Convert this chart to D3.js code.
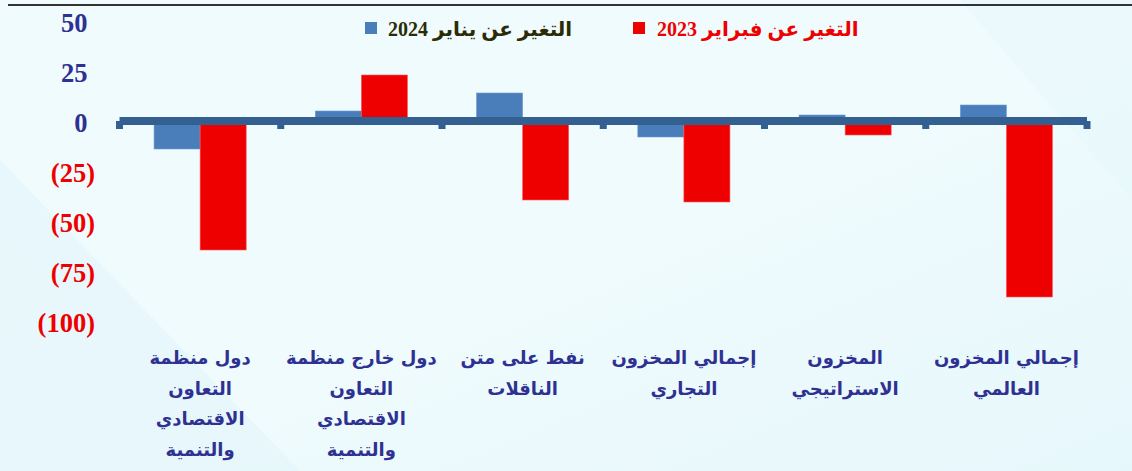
<!DOCTYPE html>
<html>
<head>
<meta charset="utf-8">
<script src="https://cdn.jsdelivr.net/npm/d3@7"></script>
<style>
  html, body { margin: 0; padding: 0; background: #eefafc; }
  svg { display: block; }
</style>
</head>
<body>
<script>
// ---- data (visual left-to-right order) ----
const categories = [
  "دول منظمة\nالتعاون\nالاقتصادي\nوالتنمية",
  "دول خارج منظمة\nالتعاون\nالاقتصادي\nوالتنمية",
  "نفط على متن\nالناقلات",
  "إجمالي المخزون\nالتجاري",
  "المخزون\nالاستراتيجي",
  "إجمالي المخزون\nالعالمي"
];
const seriesNames = ["التغير عن يناير 2024", "التغير عن فبراير 2023"];
const changeVsJan2024 = [-14, 5, 14, -8, 3, 8];
const changeVsFeb2023 = [-64.5, 23, -39.5, -40.5, -7, -88];
const yTicks = [50, 25, 0, -25, -50, -75, -100];

const W = 1132, H = 471;
const colors = ["#4a7ebb", "#ee0000"];
const legendTextColors = ["#2b2b05", "#ee0000"];

const svg = d3.select("body").append("svg").attr("width", W).attr("height", H);

// background
const defs = svg.append("defs");
const bg = defs.append("linearGradient").attr("id", "bg").attr("x1", "0").attr("y1", "0").attr("x2", "1").attr("y2", "1");
bg.append("stop").attr("offset", "0%").attr("stop-color", "#f0fbfd");
bg.append("stop").attr("offset", "55%").attr("stop-color", "#effbfd");
bg.append("stop").attr("offset", "100%").attr("stop-color", "#e6f7fb");
svg.append("rect").attr("width", W).attr("height", H).attr("fill", "url(#bg)");
svg.append("path").attr("d", "M0,160 L300,471 L0,471 Z").attr("fill", "#d9f1f7").attr("opacity", 0.35);
svg.append("path").attr("d", "M0,230 L230,471 L0,471 Z").attr("fill", "#e9f8fb").attr("opacity", 0.5);
svg.append("path").attr("d", "M960,0 L1132,0 L1132,200 Z").attr("fill", "#dcf3f9").attr("opacity", 0.2);

// top rule
svg.append("line").attr("x1", 8).attr("x2", W).attr("y1", 5).attr("y2", 5)
  .attr("stroke", "#333").attr("stroke-width", 2.2);

// scales
const x = d3.scaleBand().domain(categories).range([119.5, 1087]).paddingInner(0).paddingOuter(0);
const xs = d3.scaleBand().domain([0, 1]).range([0, x.bandwidth()]).paddingInner(0).paddingOuter(0.75);
const y = d3.scaleLinear().domain([-100, 50]).range([321, 21]);

// y axis labels
const yAxis = d3.axisLeft(y).tickValues(yTicks).tickSize(0)
  .tickFormat(d => d < 0 ? "(" + Math.abs(d) + ")" : String(d));
const gy = svg.append("g").attr("transform", "translate(95,1)").call(yAxis);
gy.select(".domain").remove();
gy.selectAll("text")
  .attr("font-family", "'Liberation Serif', 'Times New Roman', serif")
  .attr("font-weight", "bold")
  .attr("font-size", 26.5)
  .attr("x", d => d < 0 ? 0 : -7.5)
  .attr("dy", "0.34em")
  .attr("fill", d => d < 0 ? "#ee0000" : "#2e3192");

// bars
const series = [changeVsJan2024, changeVsFeb2023];
const groups = svg.append("g").selectAll("g").data(categories).join("g")
  .attr("transform", d => `translate(${x(d)},0)`);
groups.selectAll("rect")
  .data((d, i) => series.map((s, k) => ({ k, v: s[i] })))
  .join("rect")
  .attr("x", d => xs(d.k))
  .attr("width", xs.bandwidth())
  .attr("y", d => y(Math.max(0, d.v)))
  .attr("height", d => Math.abs(y(d.v) - y(0)))
  .attr("fill", d => colors[d.k])
  .attr("stroke", d => d.k === 0 ? "#6e9bd0" : "#ff5a5a")
  .attr("stroke-width", 0.6);

// x axis band with ticks
const axisColor = "#335f91";
const xAxis = d3.axisBottom(x).tickValues([]).tickSizeOuter(0);
const gx = svg.append("g").attr("transform", `translate(0,${y(0)})`).call(xAxis);
gx.select(".domain").attr("stroke", axisColor).attr("stroke-width", 8).attr("d", `M119.5,0H1087`);
const boundaries = d3.range(categories.length + 1).map(i => 119.5 + i * x.step());
gx.selectAll("rect.tk").data(boundaries).join("rect").attr("class", "tk")
  .attr("x", d => d - 3.5).attr("y", 0).attr("width", 7).attr("height", 8)
  .attr("fill", axisColor);

// category labels
const lab = svg.append("g");
categories.forEach(c => {
  const cx = x(c) + x.bandwidth() / 2;
  const t = lab.append("text")
    .attr("x", cx)
    .attr("y", 364)
    .attr("text-anchor", "middle")
    .attr("font-family", "'DejaVu Sans', sans-serif")
    .attr("font-weight", "bold")
    .attr("font-size", 18)
    .attr("fill", "#2e3192");
  c.split("\n").forEach((line, i) => {
    t.append("tspan").attr("x", cx).attr("y", 364 + i * 30.5).text(line);
  });
});

// legend
const legendPos = [{ sx: 365, tx: 388 }, { sx: 633, tx: 657 }];
const lg = svg.append("g");
seriesNames.forEach((name, k) => {
  lg.append("rect").attr("x", legendPos[k].sx).attr("y", 22).attr("width", 12).attr("height", 12)
    .attr("fill", colors[k]);
  lg.append("text").attr("x", legendPos[k].tx).attr("y", 36)
    .attr("font-family", "'Liberation Serif', 'DejaVu Sans', serif")
    .attr("font-weight", "bold").attr("font-size", 20)
    .attr("fill", legendTextColors[k])
    .text(name);
});
</script>
</body>
</html>
